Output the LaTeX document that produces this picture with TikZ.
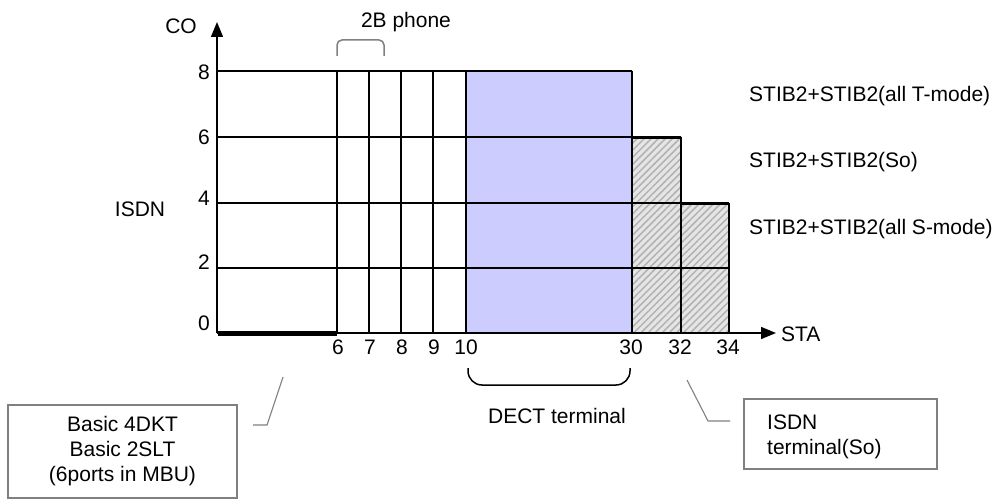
\documentclass[tikz,border=0pt]{standalone}
\usepackage{fontspec}
\setmainfont{Liberation Sans}
\usetikzlibrary{patterns.meta,arrows.meta}
\definecolor{dect}{HTML}{CCCCFF}
\definecolor{boxgray}{HTML}{808080}
\begin{document}
\begin{tikzpicture}[x=1pt,y=-1pt,
  every node/.style={font=\fontsize{21}{25}\selectfont, inner sep=0pt},
  gridline/.style={line width=1.4pt},
  axisline/.style={line width=1.4pt,-{Triangle[length=15pt,width=12pt]}},
  hatchbox/.style={fill=gray!20, postaction={pattern={Lines[angle=45,distance=5pt,line width=1.5pt]},pattern color=gray!60}},
  callbox/.style={draw=boxgray, line width=1.1pt},
  leader/.style={draw=boxgray, line width=1.1pt},
  bracegray/.style={draw=gray, line width=1.5pt, rounded corners=5pt},
  braceblack/.style={draw=black, line width=1.5pt, rounded corners=14pt},
  ]
\useasboundingbox (0,0) rectangle (999,500);
% fills
\fill[dect] (466,71) rectangle (632,333);
\path[hatchbox] (632,137) rectangle (681,333);
\path[hatchbox] (681,203) rectangle (729,333);
% grid
\draw[gridline] (217,71) -- (632,71);
\draw[gridline] (217,137) -- (681,137);
\draw[gridline] (217,203) -- (729,203);
\draw[gridline] (217,268) -- (729,268);
\foreach \xx in {337,369,401,433,466,632}{\draw[gridline] (\xx,71) -- (\xx,333);}
\draw[gridline] (681,137) -- (681,333);
\draw[gridline] (729,203) -- (729,333);
\draw[line width=1.7pt] (632,333) -- (632,138.5) -- (681,138.5) -- (681,204.5) -- (729,204.5) -- (729,333) -- cycle;
% axes
\coordinate (O) at (217,333);
\coordinate (Ytip) at (217,22);
\coordinate (Xtip) at (776,333);
\draw[axisline] (O) -- (Ytip);
\draw[axisline] (O) -- (Xtip);
\coordinate (thickA) at (218,333.5);
\coordinate (thickB) at (337,333.5);
\draw[line width=5pt] (thickA) -- (thickB);
% axis labels
\node (co) at (181,26) {CO};
\node[anchor=west] (sta) at (781,334) {STA};
\node (isdn) at (140,209) {ISDN};
\node[anchor=east] (y8) at (210,72) {8};
\node[anchor=east] (y6) at (210,137) {6};
\node[anchor=east] (y4) at (210,198) {4};
\node[anchor=east] (y2) at (210,262) {2};
\node[anchor=east] (y0) at (210,323) {0};
\node (x6) at (338,347) {6};
\node (x7) at (370,347) {7};
\node (x8) at (402,347) {8};
\node (x9) at (434,347) {9};
\node (x10) at (466,347) {10};
\node (x30) at (631,347) {30};
\node (x32) at (680,347) {32};
\node (x34) at (728,347) {34};
% right labels
\node[anchor=west] (t1) at (749,96) {STIB2+STIB2(all T-mode)};
\node[anchor=west] (t2) at (749,162) {STIB2+STIB2(So)};
\node[anchor=west] (t3) at (749,229) {STIB2+STIB2(all S-mode)};
% 2B phone
\node (ph) at (406,22) {2B phone};
\draw[bracegray] (337,56) -- (337,40) -- (384,40) -- (384,56);
% DECT
\draw[braceblack] (468,368) -- (468,385) -- (630,385) -- (630,368);
\node (dect) at (557,416) {DECT terminal};
% callout boxes
\node[callbox, align=center, minimum width=229pt, minimum height=93pt] (lbox) at (122.5,451.5) {Basic 4DKT\\Basic 2SLT\\(6ports in MBU)};
\node[callbox, minimum width=193pt, minimum height=70pt] (rbox) at (840.5,434) {};
\node[anchor=north west, align=left] (rtext) at (767,415) {ISDN\\terminal(So)};
\coordinate (la) at (253,425);
\coordinate (lb) at (267,425);
\coordinate (lc) at (283,377);
\draw[leader] (la) -- (lb) -- (lc);
\coordinate (ra) at (687,380);
\coordinate (rb) at (708,421);
\coordinate (rc) at (730,421);
\draw[leader] (ra) -- (rb) -- (rc);
\end{tikzpicture}
\end{document}
